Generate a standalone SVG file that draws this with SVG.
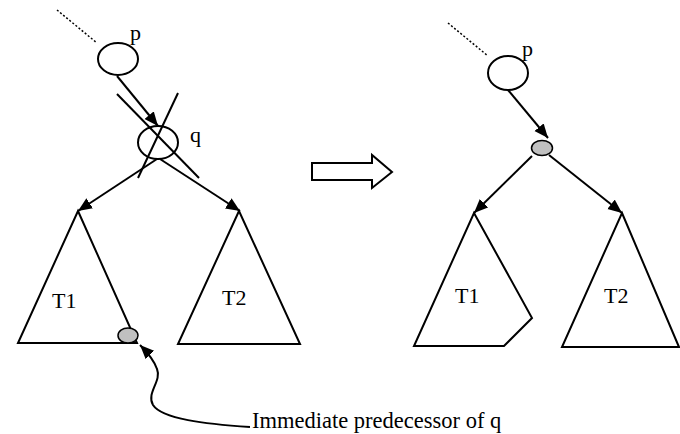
<svg xmlns="http://www.w3.org/2000/svg" width="680" height="434" viewBox="0 0 680 434">
<style>
.s{fill:none;stroke:#000;stroke-width:2}
.n{fill:#fff;stroke:#000;stroke-width:2}
.g{fill:#c0c0c0;stroke:#000;stroke-width:1.5}
.d{fill:none;stroke:#000;stroke-width:1.5;stroke-dasharray:2,2}
text{fill:#000}
</style>
<defs>
<marker id="ah" markerUnits="userSpaceOnUse" markerWidth="16" markerHeight="14" refX="14" refY="6" orient="auto">
<path d="M0,0 L14,6 L0,12 z" fill="#000"/>
</marker>
</defs>
<rect width="680" height="434" fill="#fff"/>
<g id="connectors">
<line class="d" x1="57" y1="10" x2="97" y2="43"/>
<line class="s" x1="117" y1="76" x2="158" y2="126" marker-end="url(#ah)"/>
<line class="s" x1="157" y1="159" x2="78" y2="211" marker-end="url(#ah)"/>
<line class="s" x1="160" y1="159" x2="240" y2="211" marker-end="url(#ah)"/>
<line class="s" x1="117" y1="94" x2="199" y2="178"/>
<line class="s" x1="178" y1="93" x2="138" y2="178"/>
<path class="s" d="M250,427 C205,424 162,419 153,405 C146,393 162,381 157,369 C154,360 148,353 140,345" marker-end="url(#ah)"/>
<line class="d" x1="448" y1="23" x2="488" y2="56"/>
<line class="s" x1="508" y1="90" x2="548" y2="138" marker-end="url(#ah)"/>
<line class="s" x1="532" y1="156" x2="474" y2="213" marker-end="url(#ah)"/>
<line class="s" x1="549" y1="155" x2="622" y2="213" marker-end="url(#ah)"/>
</g>
<g id="left-p">
<ellipse class="n" cx="118" cy="59" rx="20" ry="16"/>
<text x="130" y="40" font-family="Liberation Serif, Times New Roman, serif" font-size="22">p</text>
</g>
<g id="left-q">
<ellipse class="s" cx="158" cy="142.5" rx="20" ry="16.5"/>
<text x="190" y="142" font-family="Liberation Serif, Times New Roman, serif" font-size="22">q</text>
</g>
<g id="left-T1">
<polygon class="s" points="78,211 137,343 18,343"/>
<text x="52" y="308" font-family="Liberation Serif, Times New Roman, serif" font-size="22">T1</text>
</g>
<g id="left-pred">
<ellipse class="g" cx="128" cy="335.5" rx="10" ry="7.5"/>
</g>
<g id="left-T2">
<polygon class="s" points="239,211 300,344 178,344"/>
<text x="222" y="305" font-family="Liberation Serif, Times New Roman, serif" font-size="22">T2</text>
</g>
<g id="transform-arrow">
<polygon class="s" points="312,163 372,163 372,155 392,172 372,188 372,180 312,180"/>
</g>
<g id="right-p">
<ellipse class="n" cx="508" cy="73" rx="20" ry="17"/>
<text x="522" y="56" font-family="Liberation Serif, Times New Roman, serif" font-size="22">p</text>
</g>
<g id="right-new">
<ellipse class="g" cx="542" cy="148" rx="10.5" ry="7.5"/>
</g>
<g id="right-T1">
<polygon class="s" points="474,213 532,318 504,346 414,346"/>
<text x="455" y="303" font-family="Liberation Serif, Times New Roman, serif" font-size="22">T1</text>
</g>
<g id="right-T2">
<polygon class="s" points="622,213 679,347 562,347"/>
<text x="604" y="303" font-family="Liberation Serif, Times New Roman, serif" font-size="22">T2</text>
</g>
<g id="label">
<text x="252" y="428" font-family="Liberation Serif, Times New Roman, serif" font-size="22.5">Immediate predecessor of q</text>
</g>
</svg>
